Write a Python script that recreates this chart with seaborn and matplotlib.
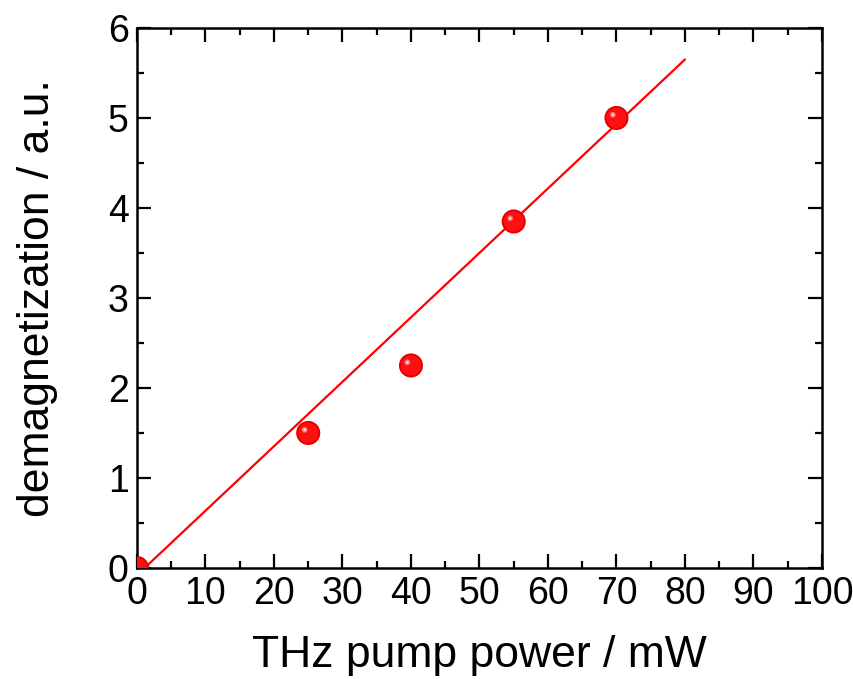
import numpy as np
import matplotlib
matplotlib.use("Agg")
import matplotlib.pyplot as plt
import seaborn as sns
import pandas as pd
from matplotlib.path import Path
from matplotlib.markers import MarkerStyle
from matplotlib.ticker import MultipleLocator

# data
power_mw = [0, 25, 40, 55, 70]
demag = [0.0, 1.5, 2.25, 3.85, 5.0]
fit_x = [0, 80]
fit_y = [-0.08, 5.65]

sns.set_theme(style="white")
plt.rcParams['font.family'] = ['Liberation Sans', 'DejaVu Sans']
plt.rcParams['text.color'] = 'black'
plt.rcParams['axes.labelcolor'] = 'black'

fig = plt.figure(figsize=(8.54, 6.79), dpi=100)
ax = fig.add_axes([0.1604, 0.1635, 0.8021, 0.7953])

df = pd.DataFrame({"x": power_mw, "y": demag})
fit_df = pd.DataFrame({"x": fit_x, "y": fit_y})

sns.lineplot(data=fit_df, x="x", y="y", ax=ax, color="#ff0000", lw=1.6, zorder=2)

# sphere-like markers: base red circle + highlight
sns.scatterplot(data=df, x="x", y="y", ax=ax, color="#e60000", s=300,
                edgecolor="none", linewidth=0, zorder=3)
sns.scatterplot(data=df, x="x", y="y", ax=ax, color="#ff1010", s=210,
                edgecolor="none", linewidth=0, zorder=4)


def offset_circle(r):
    circ = Path.circle(center=(-0.3, 0.26), radius=r)
    verts = np.vstack([[[1.0, -1.0]], circ.vertices])
    codes = np.concatenate([[Path.MOVETO], circ.codes])
    return MarkerStyle(Path(verts, codes))


sns.scatterplot(data=df, x="x", y="y", ax=ax, color="#ff7070", s=300,
                marker=offset_circle(0.24), edgecolor="none", linewidth=0, zorder=5)
sns.scatterplot(data=df, x="x", y="y", ax=ax, color="#ffd8d8", s=300,
                marker=offset_circle(0.12), edgecolor="none", linewidth=0, zorder=6)

ax.set_xlim(0, 100)
ax.set_ylim(0, 6)
ax.xaxis.set_major_locator(MultipleLocator(10))
ax.xaxis.set_minor_locator(MultipleLocator(5))
ax.yaxis.set_major_locator(MultipleLocator(1))
ax.yaxis.set_minor_locator(MultipleLocator(0.5))

ax.tick_params(which="both", direction="in", top=True, right=True,
               bottom=True, left=True, width=1.6, colors="black",
               labelcolor="black")
ax.tick_params(which="major", length=10, labelsize=27, pad=6)
ax.tick_params(which="minor", length=5)
for sp in ax.spines.values():
    sp.set_visible(True)
    sp.set_color("black")
    sp.set_linewidth(1.8)

ax.set_xlabel("THz pump power / mW", fontsize=32, labelpad=16, color="black")
ax.set_ylabel("demagnetization / a.u.", fontsize=32, labelpad=36, color="black")
ax.grid(False)
fig.savefig("out.png", dpi=100)
